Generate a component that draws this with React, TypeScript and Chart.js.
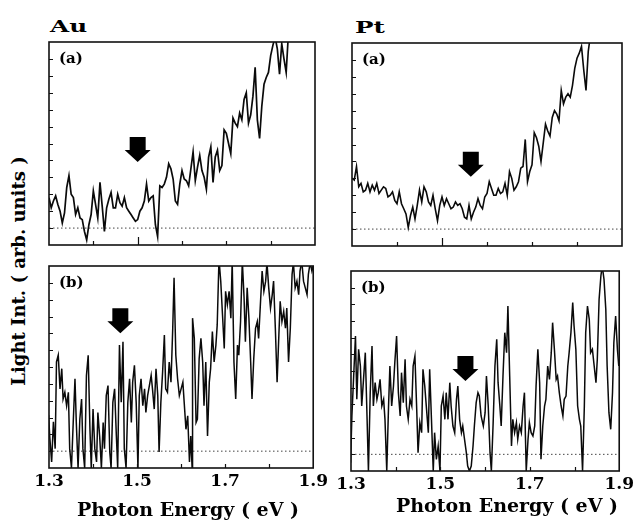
import React, { useEffect, useRef } from "react";
import { Chart, registerables } from "chart.js";

Chart.register(...registerables);

const SERIF = "'DejaVu Serif', 'Liberation Serif', serif";

// ---------- axes ----------
const E_MIN = 1.3;
const E_MAX = 1.9;
const I_MIN = 0;
const I_MAX = 12;
const X_LABEL_TICKS = [1.3, 1.5, 1.7, 1.9];
const X_MINOR_TICKS = [1.4, 1.5, 1.6, 1.7, 1.8];
const Y_MINOR_TICKS = [1, 2, 3, 4, 5, 6, 7, 8, 9, 10, 11];
const BASELINE = 1;

// ---------- (a) spectra, sampled every 5 meV from 1.300 eV ----------
const A_GRID_START = 1.3;
const A_GRID_STEP = 0.005;

const AU_A_INTENSITY = [
  2.8, 2.2, 2.6, 2.9, 2.4, 2.0, 1.3, 1.9, 3.4, 4.1,
  3.0, 2.8, 1.8, 2.2, 1.6, 1.5, 0.8, 0.3, 1.2, 1.8,
  3.2, 2.4, 1.6, 3.7, 2.3, 0.8, 2.2, 2.7, 3.1, 2.2,
  2.2, 3.0, 2.5, 2.3, 2.8, 2.2, 2.0, 1.8, 1.6, 1.4,
  1.5, 2.0, 2.2, 2.6, 3.6, 2.6, 2.8, 2.9, 1.2, 0.5,
  3.5, 3.4, 3.6, 4.0, 4.8, 4.5, 3.9, 2.6, 2.4, 3.6,
  4.4, 3.9, 3.8, 3.5, 4.5, 5.5, 3.8, 4.6, 5.3, 4.4,
  4.0, 3.3, 5.2, 5.8, 3.7, 5.2, 5.6, 4.4, 4.7, 6.8,
  6.6, 6.0, 5.4, 7.5, 7.2, 7.0, 7.8, 7.4, 8.6, 9.0,
  7.2, 7.7, 8.8, 10.5, 7.4, 6.3, 8.2, 9.5, 9.9, 10.2,
  11.2, 11.8, 12.3, 11.6, 10.1, 11.9, 11.0, 10.2, 12.5, 13.5,
];

const PT_A_INTENSITY = [
  4.0, 3.9, 4.7, 3.5, 3.7, 3.2, 3.3, 3.7, 3.2, 3.6,
  3.3, 3.7, 3.1, 3.3, 3.5, 3.4, 2.9, 3.0, 3.2, 2.7,
  2.5, 3.2, 2.5, 2.2, 1.9, 1.1, 1.8, 2.3, 1.6, 2.4,
  3.3, 2.6, 3.5, 3.2, 2.6, 2.4, 3.0, 2.2, 1.5, 2.4,
  2.9, 2.4, 2.8, 2.5, 2.2, 2.3, 2.6, 2.4, 2.5, 2.2,
  1.7, 1.6, 2.4, 1.6, 2.0, 2.3, 2.8, 2.4, 2.2, 2.9,
  3.1, 3.8, 3.4, 3.0, 3.0, 3.4, 3.1, 3.2, 3.7, 3.0,
  4.4, 4.0, 3.3, 3.5, 3.8, 4.6, 4.7, 6.3, 3.8, 4.4,
  4.8, 6.7, 6.4, 5.9, 5.0, 6.1, 7.2, 6.8, 6.5, 7.6,
  8.0, 7.8, 7.4, 9.2, 8.4, 8.8, 9.0, 8.8, 9.5, 10.5,
  11.1, 11.4, 11.8, 10.4, 9.2, 11.5, 12.5, 13.5,
];

// ---------- (b) spectra ----------
const AU_B_ENERGY = [
  1.299, 1.302, 1.306, 1.31, 1.314, 1.317, 1.321, 1.325, 1.329, 1.332,
  1.336, 1.34, 1.344, 1.347, 1.351, 1.355, 1.359, 1.362, 1.366, 1.37,
  1.374, 1.377, 1.381, 1.385, 1.389, 1.393, 1.396, 1.4, 1.404, 1.408,
  1.411, 1.415, 1.419, 1.423, 1.426, 1.43, 1.434, 1.438, 1.441, 1.445,
  1.449, 1.453, 1.456, 1.46, 1.464, 1.468, 1.471, 1.475, 1.479, 1.483,
  1.487, 1.49, 1.494, 1.498, 1.502, 1.505, 1.509, 1.513, 1.517, 1.52,
  1.524, 1.532, 1.535, 1.539, 1.543, 1.547, 1.55, 1.554, 1.558, 1.562,
  1.565, 1.569, 1.573, 1.577, 1.581, 1.584, 1.588, 1.592, 1.596,
  1.6, 1.604, 1.607, 1.611, 1.615, 1.619, 1.622, 1.625, 1.626, 1.63,
  1.634, 1.637, 1.641, 1.645, 1.649, 1.652, 1.656, 1.66, 1.664, 1.667,
  1.671, 1.675, 1.679, 1.682, 1.686, 1.69, 1.694, 1.698, 1.701, 1.705,
  1.709, 1.713, 1.716, 1.72, 1.724, 1.728, 1.731, 1.735, 1.739, 1.743,
  1.746, 1.75, 1.754, 1.758, 1.761, 1.765, 1.769, 1.773, 1.776, 1.78,
  1.784, 1.788, 1.792, 1.795, 1.799, 1.803, 1.807, 1.81, 1.814, 1.818,
  1.822, 1.825, 1.829, 1.833, 1.837, 1.84, 1.844, 1.848, 1.852, 1.855,
  1.859, 1.863, 1.867, 1.87, 1.874, 1.878, 1.882, 1.886, 1.889, 1.893,
  1.897, 1.904,
];
const AU_B_INTENSITY = [
  3.15, 1.75, 0.36, 2.74, 1.15, 6.3, 6.7, 4.7, 5.9, 4.1,
  4.5, 3.7, 4.5, 1.15, 0, 2.7, 5.3, 2.7, 0, 2.9,
  4.1, 1.15, 0, 5.5, 6.7, 2.3, 0, 3.5, 1.15, 0.36,
  3.3, 1.9, 0, 2.7, 1.15, 4.3, 4.9, 0.95, 0, 3.9,
  4.7, 1.9, 0, 7.3, 3.9, 7.5, 1.15, 0, 3.9, 5.3,
  2.7, 5.1, 6.1, 3.9, 0, 4.3, 5.3, 3.7, 4.7, 3.3,
  4.3, 5.5, 4.7, 3.5, 5.9, 4.3, 0.95, 3.9, 5.7, 7.9,
  4.7, 4.5, 6.3, 5.1, 8.3, 11.3, 6.7, 5.3, 4.3,
  4.7, 5.1, 3.9, 2.3, 3.1, 0.36, 1.9, 0, 8.9, 7.7,
  2.7, 2.9, 6.5, 7.7, 6.3, 3.7, 6.3, 1.9, 5.1, 5.9,
  8.1, 6.3, 7.3, 8.5, 12.4, 11.1, 9.1, 7.1, 10.5, 9.7,
  10.5, 8.9, 12.3, 6.3, 4.1, 7.3, 6.7, 8.7, 12.3, 10.1,
  7.5, 10.7, 8.9, 6.3, 4.1, 6.5, 8.3, 8.7, 7.7, 9.7,
  11.7, 10.5, 11.1, 12.2, 10.7, 9.5, 10.3, 11.1, 8.3, 5.1,
  7.9, 9.9, 8.7, 9.3, 8.3, 9.5, 6.3, 8.3, 11.5, 12.2,
  10.7, 11.1, 10.3, 11.7, 12.3, 11.1, 10.7, 10.3, 11.5, 12.2,
  11.7, 12.5,
];

const PT_B_ENERGY = [
  1.299, 1.302, 1.306, 1.31, 1.313, 1.317, 1.321, 1.324, 1.328, 1.332,
  1.336, 1.339, 1.343, 1.347, 1.35, 1.354, 1.358, 1.361, 1.365, 1.369,
  1.373, 1.376, 1.38, 1.384, 1.387, 1.391, 1.395, 1.398, 1.402, 1.406,
  1.41, 1.413, 1.417, 1.421, 1.424, 1.428, 1.432, 1.436, 1.439, 1.443,
  1.447, 1.45, 1.454, 1.458, 1.461, 1.465, 1.469, 1.473, 1.476, 1.48,
  1.484, 1.487, 1.491, 1.495, 1.499, 1.502, 1.506, 1.51, 1.513, 1.517,
  1.521, 1.524, 1.528, 1.532, 1.536, 1.539, 1.543, 1.547, 1.55, 1.554,
  1.558, 1.561, 1.565, 1.569, 1.573, 1.576, 1.58, 1.584, 1.587, 1.591,
  1.596, 1.6, 1.603, 1.607, 1.611, 1.614, 1.618, 1.622, 1.626, 1.629,
  1.633, 1.636, 1.64, 1.644, 1.648, 1.651, 1.655, 1.659, 1.662, 1.666,
  1.67, 1.673, 1.677, 1.681, 1.685, 1.688, 1.692, 1.696, 1.699, 1.703,
  1.707, 1.711, 1.714, 1.718, 1.722, 1.725, 1.729, 1.733, 1.736, 1.74,
  1.744, 1.748, 1.751, 1.755, 1.759, 1.762, 1.766, 1.77, 1.774, 1.777,
  1.781, 1.785, 1.788, 1.792, 1.796, 1.799, 1.803, 1.807, 1.811, 1.814,
  1.818, 1.822, 1.825, 1.829, 1.833, 1.836, 1.84, 1.844, 1.848, 1.851,
  1.855, 1.859, 1.862, 1.866, 1.87, 1.873, 1.877, 1.881, 1.885, 1.888,
  1.892, 1.896, 1.899,
];
const PT_B_INTENSITY = [
  0.5, 3.3, 5.7, 8.1, 4.3, 7.3, 6.3, 3.9, 5.5, 7.1,
  3.1, 0, 4.7, 7.5, 3.9, 5.3, 4.3, 4.7, 5.5, 3.9,
  4.3, 3.1, 0, 3.9, 6.3, 3.9, 5.1, 6.5, 8.1, 4.7,
  3.3, 5.9, 4.1, 6.7, 3.9, 3.1, 4.3, 3.9, 6.3, 6.9,
  3.7, 1.1, 2.9, 2.3, 6.1, 5.1, 3.7, 2.3, 6.1, 3.1,
  0, 2.3, 0.7, 1.5, 0, 3.9, 4.5, 3.1, 4.7, 3.1,
  5.3, 3.9, 2.7, 2.3, 4.3, 5.1, 3.1, 2.3, 2.7, 1.9,
  1.1, 0.3, 0, 0.3, 1.5, 2.7, 4.1, 4.7, 4.5, 3.3,
  2.7, 3.5, 5.7, 3.9, 1.1, 0, 2.9, 6.3, 7.9, 5.3,
  3.9, 2.7, 5.7, 8.3, 7.1, 9.9, 5.7, 1.5, 3.1, 2.3,
  2.9, 1.9, 2.7, 2.3, 3.9, 4.7, 0, 1.9, 2.9, 2.3,
  2.1, 2.7, 5.1, 7.3, 5.3, 0.7, 2.7, 3.9, 4.3, 6.3,
  5.5, 7.1, 8.9, 7.3, 5.5, 5.7, 4.7, 3.9, 3.3, 4.3,
  4.5, 6.3, 7.1, 8.3, 10.1, 8.7, 7.3, 3.9, 3.1, 2.7,
  0, 3.9, 8.3, 9.9, 9.1, 7.1, 7.3, 6.3, 5.3, 6.7,
  10.3, 11.7, 12.3, 11.5, 9.7, 6.3, 3.5, 2.5, 4.7, 7.7,
  9.3, 7.3, 6.3,
];

// ---------- arrows: [energy eV, intensity at arrow tip] ----------
const AU_A_ARROW = [1.5, 4.9];
const PT_A_ARROW = [1.564, 4.1];
const AU_B_ARROW = [1.462, 8.0];
const PT_B_ARROW = [1.556, 5.4];

// ---------- text ----------
const METAL_LABELS = ["Au", "Pt"];
const PANEL_LABELS = ["(a)", "(b)"];
const X_TITLE = "Photon Energy ( eV )";
const Y_TITLE = "Light Int. ( arb. units )";

const gridEnergies = (n: number) =>
  Array.from({ length: n }, (_, i) => +(A_GRID_START + i * A_GRID_STEP).toFixed(3));

type Spec = {
  energies: number[];
  values: number[];
  arrow: number[];
  label: string;
  showX: boolean;
  frame: { left: number; top: number; right: number; bottom: number };
  lw: number;
  longTick: number | null;
};

const PAD_L = 20;
const PAD_R = 16;
const PAD_T = 4;
const PAD_B = 4;
const AXIS_H = 36;

function decoPlugin(spec: Spec) {
  return {
    id: "deco",
    afterDatasetsDraw(chart: any) {
      const { ctx, chartArea: a, scales } = chart;
      const xs = scales.x;
      const ys = scales.y;
      ctx.save();
      ctx.strokeStyle = "#111";
      ctx.lineWidth = 1.6;
      ctx.strokeRect(a.left, a.top, a.right - a.left, a.bottom - a.top);
      ctx.lineWidth = 1.2;
      ctx.beginPath();
      for (const v of Y_MINOR_TICKS) {
        const y = Math.round(ys.getPixelForValue(v)) + 0.5;
        ctx.moveTo(a.left, y);
        ctx.lineTo(a.left + 4, y);
      }
      for (const v of X_MINOR_TICKS) {
        const x = Math.round(xs.getPixelForValue(v)) + 0.5;
        const len = spec.longTick === v ? 8 : 4;
        ctx.moveTo(x, a.bottom);
        ctx.lineTo(x, a.bottom - len);
      }
      ctx.stroke();
      const tx = xs.getPixelForValue(spec.arrow[0]);
      const ty = ys.getPixelForValue(spec.arrow[1]);
      ctx.fillStyle = "#000";
      ctx.beginPath();
      ctx.moveTo(tx - 8, ty - 25);
      ctx.lineTo(tx + 8, ty - 25);
      ctx.lineTo(tx + 8, ty - 12);
      ctx.lineTo(tx + 13, ty - 12);
      ctx.lineTo(tx, ty);
      ctx.lineTo(tx - 13, ty - 12);
      ctx.lineTo(tx - 8, ty - 12);
      ctx.closePath();
      ctx.fill();
      ctx.font = `bold 15px ${SERIF}`;
      ctx.textBaseline = "top";
      ctx.textAlign = "left";
      ctx.fillText(spec.label, a.left + 10, a.top + 10);
      ctx.restore();
    },
  };
}

function Panel({ spec }: { spec: Spec }) {
  const ref = useRef<HTMLCanvasElement | null>(null);
  const f = spec.frame;
  const width = f.right - f.left + PAD_L + PAD_R;
  const height = f.bottom - f.top + PAD_T + (spec.showX ? AXIS_H : PAD_B);
  useEffect(() => {
    if (!ref.current) return;
    const chart = new Chart(ref.current, {
      type: "line",
      data: {
        datasets: [
          {
            data: spec.energies.map((e, i) => ({ x: e, y: spec.values[i] })),
            borderColor: "#0a0a0a",
            borderWidth: spec.lw,
            pointRadius: 0,
            tension: 0,
            clip: 0,
            order: 0,
          },
          {
            data: [
              { x: E_MIN, y: BASELINE },
              { x: E_MAX, y: BASELINE },
            ],
            borderColor: "#444",
            borderWidth: 1,
            borderDash: [1.5, 2.5],
            pointRadius: 0,
            order: 1,
          },
        ],
      },
      options: {
        animation: false,
        responsive: false,
        maintainAspectRatio: false,
        events: [],
        layout: {
          padding: {
            left: PAD_L,
            right: PAD_R,
            top: PAD_T,
            bottom: spec.showX ? 0 : PAD_B,
          },
        },
        plugins: {
          legend: { display: false },
          tooltip: { enabled: false },
        },
        scales: {
          x: {
            type: "linear",
            min: E_MIN,
            max: E_MAX,
            display: spec.showX,
            grid: { display: false, drawTicks: false },
            border: { display: false },
            ticks: {
              color: "#000",
              padding: 3,
              maxRotation: 0,
              autoSkip: false,
              font: { family: SERIF, weight: "bold", size: 17 },
              callback: (v: any) => Number(v).toFixed(1),
            },
            afterBuildTicks: (s: any) => {
              s.ticks = X_LABEL_TICKS.map((v) => ({ value: v }));
            },
            afterFit: (s: any) => {
              s.height = spec.showX ? AXIS_H : 0;
            },
          },
          y: { display: false, min: I_MIN, max: I_MAX },
        },
      } as any,
      plugins: [decoPlugin(spec)],
    });
    return () => chart.destroy();
  }, []);
  return (
    <div
      style={{
        position: "absolute",
        left: f.left - PAD_L,
        top: f.top - PAD_T,
        width,
        height,
      }}
    >
      <canvas ref={ref} width={width} height={height} style={{ width, height, display: "block" }} />
    </div>
  );
}

const SPECS: Spec[] = [
  {
    energies: gridEnergies(AU_A_INTENSITY.length),
    values: AU_A_INTENSITY,
    arrow: AU_A_ARROW,
    label: PANEL_LABELS[0],
    showX: false,
    frame: { left: 49, top: 42, right: 315, bottom: 245 },
    lw: 1.7,
    longTick: 1.5,
  },
  {
    energies: gridEnergies(PT_A_INTENSITY.length),
    values: PT_A_INTENSITY,
    arrow: PT_A_ARROW,
    label: PANEL_LABELS[0],
    showX: false,
    frame: { left: 352, top: 43, right: 622, bottom: 246 },
    lw: 1.6,
    longTick: 1.5,
  },
  {
    energies: AU_B_ENERGY,
    values: AU_B_INTENSITY,
    arrow: AU_B_ARROW,
    label: PANEL_LABELS[1],
    showX: true,
    frame: { left: 49, top: 266, right: 315, bottom: 468 },
    lw: 1.5,
    longTick: null,
  },
  {
    energies: PT_B_ENERGY,
    values: PT_B_INTENSITY,
    arrow: PT_B_ARROW,
    label: PANEL_LABELS[1],
    showX: true,
    frame: { left: 351, top: 271, right: 621, bottom: 471 },
    lw: 1.5,
    longTick: null,
  },
];

const textBase: React.CSSProperties = {
  position: "absolute",
  fontFamily: SERIF,
  fontWeight: "bold",
  color: "#000",
  whiteSpace: "nowrap",
  margin: 0,
};

export default function App() {
  return (
    <div
      style={{
        position: "absolute",
        left: 0,
        top: 0,
        width: 639,
        height: 523,
        background: "#fff",
        overflow: "hidden",
      }}
    >
      {SPECS.map((s, i) => (
        <Panel key={i} spec={s} />
      ))}
      <div
        style={{
          ...textBase,
          left: 50,
          top: 16,
          fontSize: 17,
          lineHeight: "20px",
          transform: "scaleX(1.45)",
          transformOrigin: "left top",
        }}
      >
        {METAL_LABELS[0]}
      </div>
      <div
        style={{
          ...textBase,
          left: 355,
          top: 16.5,
          fontSize: 17,
          lineHeight: "20px",
          transform: "scaleX(1.45)",
          transformOrigin: "left top",
        }}
      >
        {METAL_LABELS[1]}
      </div>
      <div style={{ ...textBase, left: 77, top: 498, fontSize: 19, lineHeight: "22px" }}>{X_TITLE}</div>
      <div style={{ ...textBase, left: 396, top: 494, fontSize: 19, lineHeight: "22px" }}>{X_TITLE}</div>
      <div
        style={{
          ...textBase,
          left: 19,
          top: 271,
          fontSize: 18,
          lineHeight: "20px",
          transform: "translate(-50%, -50%) rotate(-90deg)",
        }}
      >
        {Y_TITLE}
      </div>
    </div>
  );
}
